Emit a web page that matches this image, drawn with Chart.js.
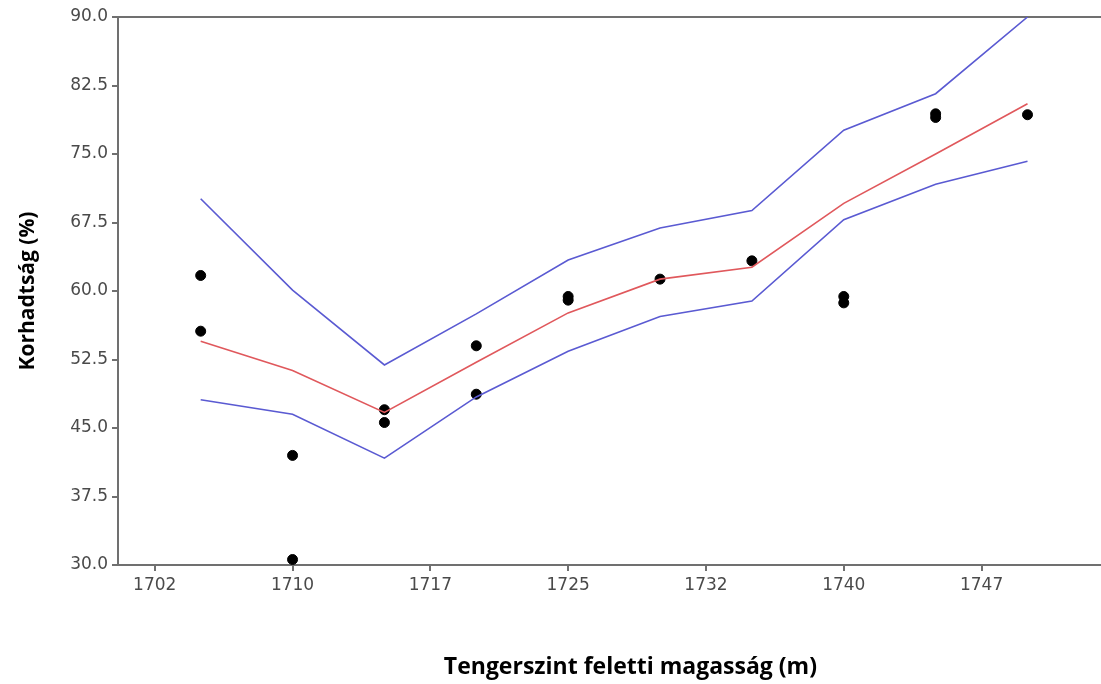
<!DOCTYPE html>
<html>
<head>
<meta charset="utf-8">
<title>Korhadtság</title>
<script src="https://cdn.jsdelivr.net/npm/chart.js@4.4.0/dist/chart.umd.min.js"></script>
<style>
  html, body { margin: 0; padding: 0; background: #fff; }
  canvas { display: block; }
</style>
</head>
<body>
<canvas id="chart" width="1101" height="684"></canvas>
<script>
// Tengerszint feletti magasság (m) - a görbék pontjai
const heights = [1705, 1710, 1715, 1720, 1725, 1730, 1735, 1740, 1745, 1750];
const fitLine = [54.5, 51.3, 46.7, 52.2, 57.6, 61.3, 62.6, 69.6, 75.0, 80.5];
const upperBand = [70.1, 60.1, 51.9, 57.5, 63.4, 66.9, 68.8, 77.6, 81.6, 90.0];
const lowerBand = [48.1, 46.5, 41.7, 48.4, 53.4, 57.2, 58.9, 67.8, 71.7, 74.2];

// mért értékek
const obsX = [1705, 1705, 1710, 1710, 1715, 1715, 1720, 1720, 1725, 1725, 1730, 1735, 1740, 1740, 1745, 1745, 1750];
const obsY = [61.7, 55.6, 42.0, 30.6, 47.0, 45.6, 54.0, 48.7, 59.4, 59.0, 61.3, 63.3, 59.4, 58.7, 79.4, 79.0, 79.3];

// tengely feliratok
const xTickValues = [1702.5, 1710, 1717.5, 1725, 1732.5, 1740, 1747.5];
const xTickLabels = ['1702', '1710', '1717', '1725', '1732', '1740', '1747'];
const yTickValues = [30, 37.5, 45, 52.5, 60, 67.5, 75, 82.5, 90];

const axisColor = '#707070';
const tickFont = { family: 'DejaVu Sans', size: 17 };

const toPoints = (xs, ys) => xs.map((x, i) => ({ x: x, y: ys[i] }));

// no side padding on horizontal axes, so the plot reaches the right edge
const noSidePadding = (scale) => {
    scale.paddingLeft = 0;
    scale.paddingRight = 0;
};

const ctx = document.getElementById('chart').getContext('2d');

new Chart(ctx, {
    type: 'scatter',
    data: {
        datasets: [
            {
                label: 'felső',
                type: 'line',
                data: toPoints(heights, upperBand),
                borderColor: '#5a5ad2',
                borderWidth: 1.6,
                pointRadius: 0,
                fill: false
            },
            {
                label: 'alsó',
                type: 'line',
                data: toPoints(heights, lowerBand),
                borderColor: '#5a5ad2',
                borderWidth: 1.6,
                pointRadius: 0,
                fill: false
            },
            {
                label: 'illesztés',
                type: 'line',
                data: toPoints(heights, fitLine),
                borderColor: '#e0585c',
                borderWidth: 1.6,
                pointRadius: 0,
                fill: false
            },
            {
                label: 'mért',
                data: toPoints(obsX, obsY),
                backgroundColor: '#000',
                borderColor: '#000',
                pointRadius: 5,
                pointHoverRadius: 5
            }
        ]
    },
    options: {
        responsive: false,
        animation: false,
        layout: { padding: 0, autoPadding: false },
        plugins: {
            legend: { display: false },
            tooltip: { enabled: false }
        },
        scales: {
            x: {
                type: 'linear',
                position: 'bottom',
                min: 1700.5,
                max: 1754,
                afterBuildTicks: (scale) => {
                    scale.ticks = xTickValues.map(v => ({ value: v }));
                },
                afterFit: (scale) => {
                    scale.height = 119;
                    noSidePadding(scale);
                },
                ticks: {
                    padding: 4,
                    color: '#4a4a4a',
                    font: tickFont,
                    maxRotation: 0,
                    autoSkip: false,
                    callback: (value) => xTickLabels[xTickValues.indexOf(value)]
                },
                grid: { drawOnChartArea: false, drawTicks: true, tickLength: 6, color: axisColor, lineWidth: 2 },
                border: { display: true, color: axisColor, width: 2 },
                title: {
                    display: true,
                    text: '       Tengerszint feletti magasság (m)',
                    color: '#000',
                    font: { family: 'Open Sans', size: 23, weight: 'bold' },
                    padding: { top: 0, bottom: 3 }
                }
            },
            xTop: {
                type: 'linear',
                position: 'top',
                min: 1700.5,
                max: 1754,
                afterFit: (scale) => {
                    scale.height = 17;
                    noSidePadding(scale);
                },
                ticks: { display: false },
                grid: { display: false },
                border: { display: true, color: axisColor, width: 2 }
            },
            y: {
                type: 'linear',
                min: 30,
                max: 90,
                afterBuildTicks: (scale) => {
                    scale.ticks = yTickValues.map(v => ({ value: v }));
                },
                afterFit: (scale) => { scale.width = 118; },
                ticks: {
                    padding: 4,
                    color: '#4a4a4a',
                    font: tickFont,
                    callback: (value) => value.toFixed(1)
                },
                grid: { drawOnChartArea: false, drawTicks: true, tickLength: 6, color: axisColor, lineWidth: 2 },
                border: { display: true, color: axisColor, width: 2 },
                title: {
                    display: true,
                    text: 'Korhadtság (%)',
                    color: '#000',
                    font: { family: 'Open Sans', size: 21, weight: 'bold' },
                    padding: { top: 15, bottom: 0 }
                }
            }
        }
    }
});
</script>
</body>
</html>
